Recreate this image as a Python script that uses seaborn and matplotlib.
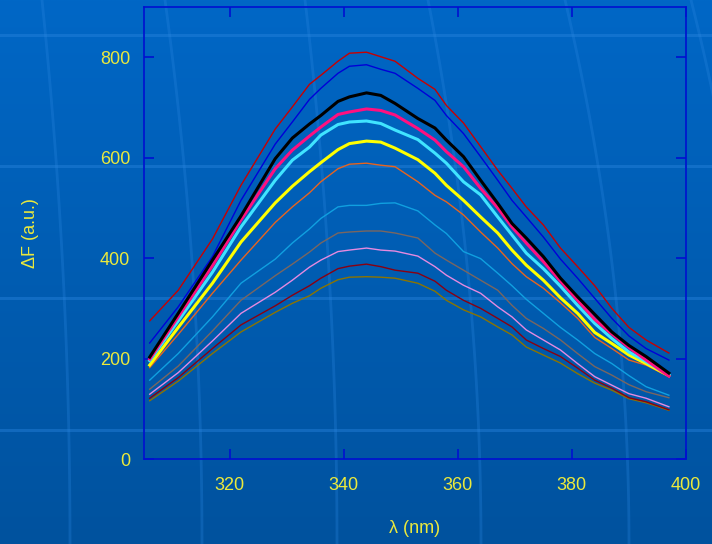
import numpy as np
import pandas as pd
import matplotlib
matplotlib.use("Agg")
import matplotlib.pyplot as plt
import seaborn as sns

# Emission wavelength (nm) and fluorescence change for each titration step
wavelength = [306, 311, 317, 322, 328, 331, 334, 336, 339, 341, 344, 346.5, 349, 353, 356,
              358, 361, 364, 367, 369.5, 372, 375, 378, 381, 384, 387, 390, 393, 397]

dF_red = [275, 336, 438, 545, 657, 701, 746, 764, 792, 808, 810, 801, 792, 758, 736,
          704, 669, 622, 575, 539, 502, 466, 420, 383, 345, 300, 262, 237, 211]
dF_blue = [231, 303, 403, 515, 627, 671, 716, 738, 768, 782, 785, 776, 768, 738, 714,
           684, 648, 602, 555, 515, 482, 442, 398, 360, 320, 280, 245, 220, 197]
dF_black = [203, 290, 396, 484, 598, 639, 667, 684, 712, 721, 729, 724, 708, 678, 659,
            635, 602, 555, 509, 469, 440, 403, 360, 323, 288, 253, 226, 204, 171]
dF_pink = [199, 283, 385, 476, 578, 615, 643, 661, 686, 691, 697, 694, 685, 658, 635,
           612, 582, 539, 500, 462, 430, 393, 354, 316, 278, 249, 222, 197, 165]
dF_cyan = [196, 275, 372, 462, 555, 595, 621, 645, 666, 671, 673, 668, 655, 636, 609,
           589, 552, 526, 482, 446, 410, 379, 344, 306, 270, 240, 213, 194, 167]
dF_yellow = [187, 262, 350, 432, 510, 543, 572, 590, 616, 628, 633, 631, 619, 596, 569,
             545, 515, 482, 450, 416, 386, 356, 321, 290, 252, 230, 207, 190, 166]
dF_orange = [182, 248, 330, 396, 471, 502, 530, 552, 578, 587, 589, 585, 582, 552, 525,
             512, 486, 452, 420, 389, 363, 340, 311, 280, 242, 220, 197, 187, 164]
dF_lightblue = [157, 210, 283, 350, 398, 430, 458, 479, 502, 505, 505, 509, 510, 494, 466,
                449, 413, 399, 370, 345, 318, 290, 262, 237, 210, 190, 166, 144, 127]
dF_grey = [139, 185, 255, 316, 365, 388, 412, 430, 450, 452, 454, 454, 450, 440, 410,
           396, 376, 356, 336, 306, 280, 260, 237, 210, 184, 167, 148, 134, 122]
dF_violet = [129, 172, 235, 290, 332, 356, 382, 396, 413, 416, 420, 416, 414, 404, 383,
             366, 346, 330, 303, 283, 257, 237, 217, 190, 164, 147, 130, 121, 104]
dF_maroon = [121, 162, 220, 267, 305, 326, 345, 360, 379, 384, 388, 383, 376, 370, 354,
             336, 316, 300, 280, 263, 237, 220, 204, 181, 157, 141, 122, 114, 98]
dF_olive = [116, 155, 210, 253, 292, 310, 325, 340, 357, 362, 363, 362, 360, 350, 334,
            316, 297, 283, 263, 247, 223, 207, 191, 170, 151, 137, 120, 112, 97]

x_ticks = [320, 340, 360, 380, 400]
y_ticks = [0, 200, 400, 600, 800]

# (values, colour, line width) in drawing order: thin traces first, bold ones on top
series = [
    (dF_olive, "#8c7400", 1.0),
    (dF_maroon, "#8a0010", 1.0),
    (dF_violet, "#e68ae0", 1.0),
    (dF_grey, "#7a6660", 1.0),
    (dF_lightblue, "#10a0e0", 1.0),
    (dF_orange, "#e8641e", 1.0),
    (dF_blue, "#0000d8", 1.0),
    (dF_red, "#c80000", 1.0),
    (dF_yellow, "#ffff00", 2.2),
    (dF_cyan, "#40e4ff", 2.2),
    (dF_pink, "#ff1080", 2.2),
    (dF_black, "#000000", 2.2),
]

plt.rcParams["font.family"] = ["Liberation Sans", "DejaVu Sans"]
text_color = "#ebe93c"
frame_color = "#0010d0"

fig = plt.figure(figsize=(7.12, 5.44), dpi=100)

# slide-style backdrop: vertical blue gradient with faint light streaks
bg = fig.add_axes([0, 0, 1, 1], zorder=-10)
grad = np.linspace(0, 1, 256)[:, None]
top = np.array([0, 103, 198]) / 255
bot = np.array([0, 82, 158]) / 255
img = top[None, None, :] * (1 - grad[..., None]) + bot[None, None, :] * grad[..., None]
img = np.repeat(img, 4, axis=1)
bg.imshow(img, extent=[0, 712, 544, 0], aspect="auto", interpolation="bilinear")
streak = "#2b86e0"
for yy in [35, 166, 298, 430]:
    bg.plot([0, 712], [yy, yy], color=streak, lw=2.2, alpha=0.4)
yy = np.linspace(0, 544, 100)
for xt, xb in [(42, 70), (165, 202), (305, 337), (428, 481), (565, 629), (691, 760)]:
    xx = xt + (xb - xt) * (1 - (1 - yy / 544) ** 2)
    bg.plot(xx, yy, color=streak, lw=2.0, alpha=0.3)
bg.set_xlim(0, 712)
bg.set_ylim(544, 0)
bg.axis("off")

ax = fig.add_axes([144 / 712, 85 / 544, 542 / 712, 452 / 544])
ax.set_facecolor("none")

for values, color, lw in series:
    df = pd.DataFrame({"wavelength": wavelength, "dF": values})
    sns.lineplot(data=df, x="wavelength", y="dF", color=color, linewidth=lw, ax=ax)

ax.set_xlim(305, 400)
ax.set_ylim(0, 900)
ax.set_xticks(x_ticks)
ax.set_yticks(y_ticks)
ax.tick_params(axis="both", direction="in", length=7, width=1.2, color=frame_color,
               labelcolor=text_color, labelsize=13, top=True, right=True)
ax.tick_params(axis="x", pad=13)
ax.tick_params(axis="y", pad=10)
for sp in ax.spines.values():
    sp.set_color(frame_color)
    sp.set_linewidth(1.2)

ax.set_xlabel("λ (nm)", color=text_color, fontsize=13, labelpad=19)
ax.set_ylabel("ΔF (a.u.)", color=text_color, fontsize=13, labelpad=44)

fig.savefig("out.png", dpi=100)
